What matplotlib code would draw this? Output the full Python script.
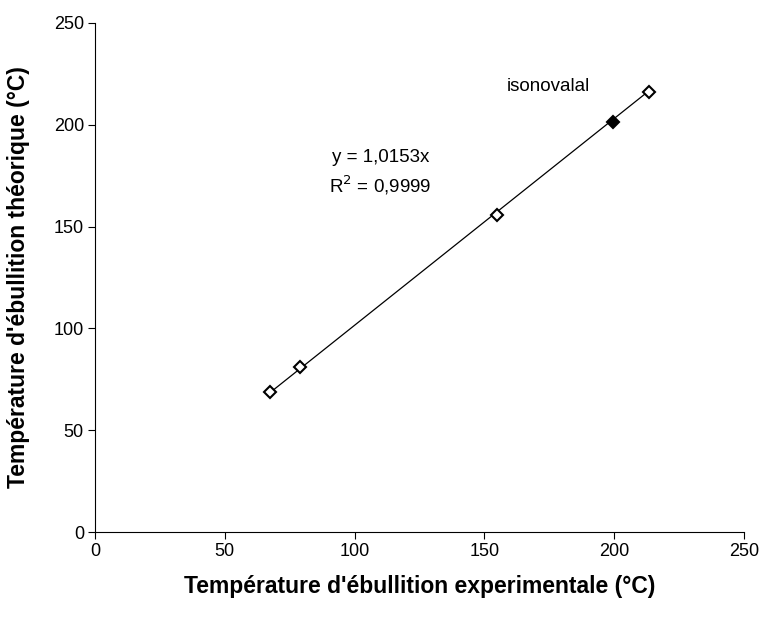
import numpy as np
import matplotlib
matplotlib.use("Agg")
import matplotlib.pyplot as plt

plt.rcParams['font.family'] = ['Liberation Sans', 'DejaVu Sans']

t_exp = [67.4, 79.0, 155.0, 213.4]
t_theo = [68.6, 80.9, 155.8, 216.1]
iso_exp = [199.5]
iso_theo = [201.5]
slope = 1.0153

fig = plt.figure(figsize=(7.63, 6.21), dpi=100)
ax = fig.add_axes([0.1245, 0.1433, 0.8505, 0.8197])

xs = np.array([min(t_exp), max(t_exp)])
ax.plot(xs, slope * xs, color="black", lw=0.9, zorder=1)
ax.plot(t_exp, t_theo, linestyle="none", marker="D", ms=6, mfc="white",
        mec="black", mew=1.5, zorder=2)
ax.plot(iso_exp, iso_theo, linestyle="none", marker="D", ms=6, mfc="black",
        mec="black", mew=1.5, zorder=2)

ax.text(174.5, 219, "isonovalal", fontsize=13.5, ha="center", va="center")
ax.text(110, 183.7, "y = 1,0153x", fontsize=13.5, ha="center", va="center")
ax.text(110, 170.4, "R$^2$ = 0,9999", fontsize=13.5, ha="center", va="center")

ax.set_xlim(0, 250)
ax.set_ylim(0, 250)
ax.set_xticks(np.arange(0, 251, 50))
ax.set_yticks(np.arange(0, 251, 50))
ax.tick_params(direction="out", length=5, width=0.8, labelsize=13, pad=3)
for s in ["top", "right"]:
    ax.spines[s].set_visible(False)
for s in ["left", "bottom"]:
    ax.spines[s].set_linewidth(0.8)

ax.set_xlabel("Température d'ébullition experimentale (°C)", fontsize=16.5,
              fontweight="bold", labelpad=11)
ax.set_ylabel("Température d'ébullition théorique (°C)", fontsize=16.5,
              fontweight="bold", labelpad=17)

fig.set_facecolor("white")
plt.savefig("out.png", dpi=100)
